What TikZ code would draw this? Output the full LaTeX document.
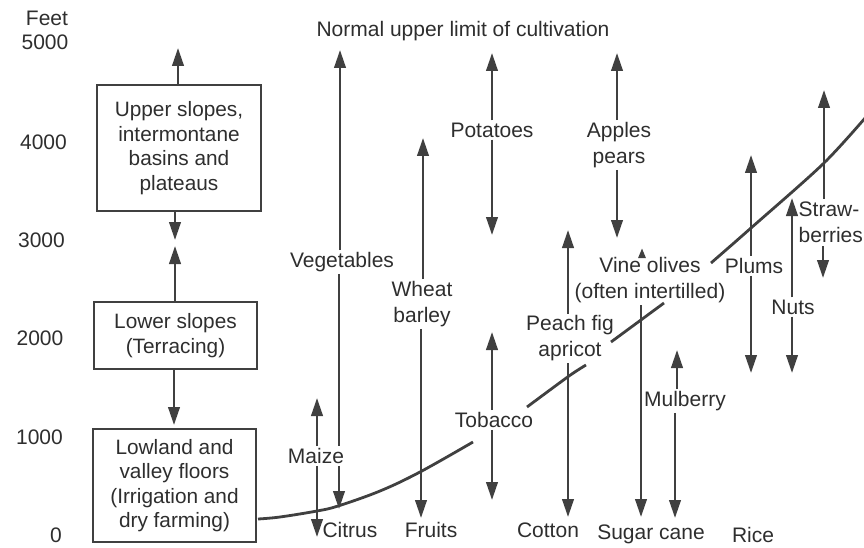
\documentclass[tikz,border=0pt]{standalone}
\usepackage{fontspec}
\setmainfont{Liberation Sans}
\usetikzlibrary{arrows.meta}
\definecolor{ink}{HTML}{2E2E2E}
\definecolor{lc}{HTML}{404040}
\begin{document}
\begin{tikzpicture}[x=1pt,y=-1pt,
  lbl/.style={inner sep=2pt, text=ink, font=\fontsize{21}{26}\selectfont, align=center},
  axl/.style={inner sep=0pt, text=ink, font=\fontsize{21}{24}\selectfont},
  zonebox/.style={draw=lc, line width=1.7pt, text=ink, align=center, font=\fontsize{20.8}{24.5}\selectfont, inner sep=0pt},
  arr/.style={draw=lc, line width=2.5pt, -{Triangle[length=18pt,width=11.5pt]}},
  arrsmall/.style={draw=lc, line width=2.5pt, -{Triangle[length=10pt,width=7pt]}},
  plain/.style={draw=lc, line width=2.5pt},
  ridge/.style={draw=lc, line width=2.8pt}]
\useasboundingbox (0,0) rectangle (864,548);

% axis
\node[axl] (feet) at (47,18) {Feet};
\node[axl] (a5) at (45,42) {5000};
\node[axl] (a4) at (43.5,142) {4000};
\node[axl] (a3) at (41.5,240) {3000};
\node[axl] (a2) at (40,338) {2000};
\node[axl] (a1) at (39.5,437) {1000};
\node[axl] (a0) at (56,535) {0};

% zone boxes
\node[zonebox, minimum width=164pt, minimum height=126pt] (upper) at (179,148) {Upper slopes,\\intermontane\\basins and\\plateaus};
\node[zonebox, minimum width=163pt, minimum height=67pt] (middle) at (175.5,335.5) {Lower slopes\\(Terracing)};
\node[zonebox, minimum width=163pt, minimum height=113pt] (lower) at (174.5,485.5) {Lowland and\\valley floors\\(Irrigation and\\dry farming)};

\coordinate (t1) at (178,48);
\coordinate (t2) at (175,240);
\coordinate (t3) at (175,246);
\coordinate (t4) at (174,425);
\draw[arr] (upper.north -| t1) -- (t1);
\draw[arr] (upper.south -| t2) -- (t2);
\draw[arr] (middle.north -| t3) -- (t3);
\draw[arr] (middle.south -| t4) -- (t4);

% curve
\draw[ridge] plot[smooth, tension=0.6] coordinates {(258,519) (280,517) (317,511) (338,506) (380,491) (420,472) (473,442)};
\draw[ridge] plot[smooth] coordinates {(527,407) (569,376) (586,365)};
\draw[ridge] (611,342) -- (664,303);
\draw[ridge] plot[smooth] coordinates {(711,263) (751,228) (824,163) (872,110)};

% labels
\node[lbl] (limit) at (463,31) {Normal upper limit of cultivation};
\node[lbl] (veg) at (342,262) {Vegetables};
\node[lbl] (pot) at (492,130) {Potatoes};
\node[lbl] (wheat) at (422,304) {Wheat\\barley};
\node[lbl] (maize) at (316,456) {Maize};
\node[lbl] (citrus) at (350,530) {Citrus};
\node[lbl] (fruits) at (431,530) {Fruits};
\node[lbl] (tob) at (494,420) {Tobacco};
\node[lbl] (cotton) at (548,530) {Cotton};
\node[lbl] (peach) at (570,338.5) {Peach fig\\apricot};
\node[lbl] (apples) at (619,145) {Apples\\pears};
\node[lbl] (vine) at (650,280.5) {Vine olives\\(often intertilled)};
\node[lbl] (sugar) at (651,534) {Sugar cane};
\node[lbl] (mul) at (685,401) {Mulberry};
\node[lbl] (plums) at (754,266) {Plums};
\node[lbl] (nuts) at (793,307) {Nuts};
\node[lbl, inner sep=0pt, anchor=west, align=left] (straw) at (798.5,222.5) {Straw-\\berries};
\node[lbl] (rice) at (753,535) {Rice};

% crop arrows
\coordinate (vegU) at (340,50);
\coordinate (vegD) at (339,509);
\draw[arr] (veg.north -| vegU) -- (vegU);
\draw[plain] (veg.south -| vegD) -- (maize.north -| vegD);
\draw[arr] (maize.south -| vegD) -- (vegD);

\coordinate (maiU) at (317,398);
\coordinate (maiD) at (317,537);
\draw[arr] (maize.north -| maiU) -- (maiU);
\draw[arr] (maize.south -| maiD) -- (maiD);

\coordinate (whU) at (423,138);
\coordinate (whD) at (421,518);
\draw[arr] (wheat.north -| whU) -- (whU);
\draw[arr] (wheat.south -| whD) -- (whD);

\coordinate (potU) at (492,53);
\coordinate (potD) at (492,235);
\draw[arr] (pot.north -| potU) -- (potU);
\draw[arr] (pot.south -| potD) -- (potD);

\coordinate (tobU) at (492,332);
\coordinate (tobD) at (492,500);
\draw[arr] (tob.north -| tobU) -- (tobU);
\draw[arr] (tob.south -| tobD) -- (tobD);

\coordinate (peaU) at (568,230);
\coordinate (peaD) at (568,517);
\draw[arr] (peach.north -| peaU) -- (peaU);
\draw[arr] (peach.south -| peaD) -- (peaD);

\coordinate (appU) at (617,53);
\coordinate (appD) at (617,238);
\draw[arr] (apples.north -| appU) -- (appU);
\draw[arr] (apples.south -| appD) -- (appD);

\coordinate (vinU) at (642,248);
\coordinate (vinD) at (641,517);
\draw[arrsmall] (vine.north -| vinU) -- (vinU);
\draw[arr] (vine.south -| vinD) -- (vinD);

\coordinate (mulU) at (677,350);
\coordinate (mulD) at (675,518);
\draw[arr] (mul.north -| mulU) -- (mulU);
\draw[arr] (mul.south -| mulD) -- (mulD);

\coordinate (pluU) at (751,155);
\coordinate (pluD) at (751,373);
\draw[arr] (plums.north -| pluU) -- (pluU);
\draw[arr] (plums.south -| pluD) -- (pluD);

\coordinate (nutU) at (792,198);
\coordinate (nutD) at (792,373);
\draw[arr] (nuts.north -| nutU) -- (nutU);
\draw[arr] (nuts.south -| nutD) -- (nutD);

\coordinate (strU) at (824,90);
\coordinate (strD) at (823,278);
\draw[arr, shorten <=3pt] (straw.north -| strU) -- (strU);
\draw[arr, shorten <=3pt] (straw.south -| strD) -- (strD);
\end{tikzpicture}
\end{document}
